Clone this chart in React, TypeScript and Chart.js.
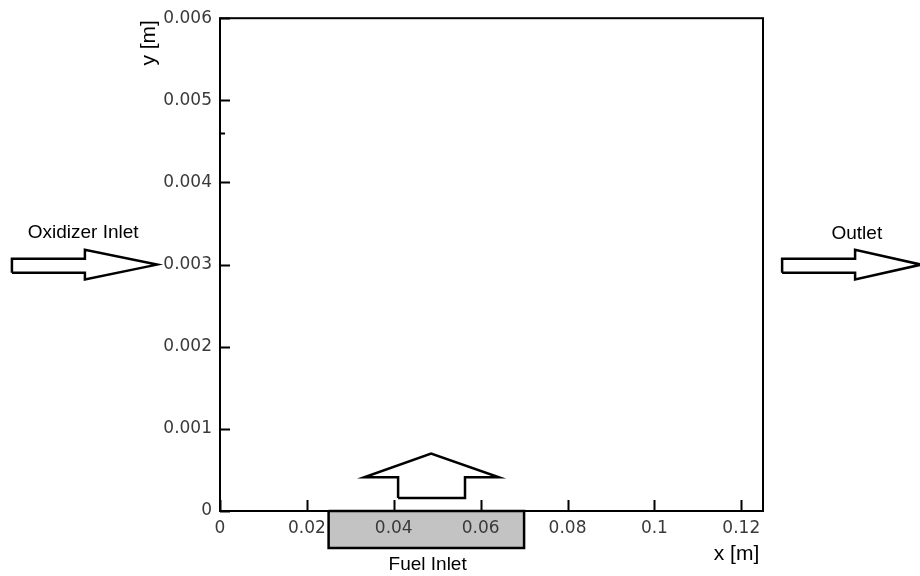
import React, { useEffect, useRef } from "react";
import { Chart, registerables } from "chart.js";
Chart.register(...registerables);

// Axis ranges and ticks
const xRange = [0, 0.125];
const yRange = [0, 0.006];
const xTicks = [0, 0.02, 0.04, 0.06, 0.08, 0.1, 0.12];
const yTicks = [0, 0.001, 0.002, 0.003, 0.004, 0.005, 0.006];
const yMinorTicks = [0.0046];

// Shapes in data units [m]
const fuelInletX = [0.025, 0.07, 0.07, 0.025, 0.025];
const fuelInletY = [0, 0, -0.00045, -0.00045, 0];

const fuelArrowX = [0.041, 0.041, 0.0332, 0.0486, 0.0642, 0.0564, 0.0564, 0.041];
const fuelArrowY = [0.000157, 0.00041, 0.00041, 0.0007, 0.00041, 0.00041, 0.000157, 0.000157];

const oxArrowX = [-0.0479, -0.0311, -0.0311, -0.0145, -0.0311, -0.0311, -0.0479, -0.0479];
const oxArrowY = [0.0029, 0.0029, 0.00282, 0.003, 0.00318, 0.00307, 0.00307, 0.0029];

const outArrowX = [0.1294, 0.1462, 0.1462, 0.1614, 0.1462, 0.1462, 0.1294, 0.1294];
const outArrowY = [0.0029, 0.0029, 0.00282, 0.003, 0.00318, 0.00307, 0.00307, 0.0029];

// Annotation labels
const labelTexts = ["Oxidizer Inlet", "Outlet", "Fuel Inlet"];
const labelX = [-0.0315, 0.1466, 0.0478];
const labelY = [0.00339, 0.00338, -0.00065];

const xTitle = "x [m]";
const xTitlePos = [0.1189, -0.00052];
const yTitle = "y [m]";
const yTitlePos = [-0.0162, 0.0057];

const toPts = (xs: number[], ys: number[]) => xs.map((x, i) => ({ x, y: ys[i] }));

const shapeDataset = (label: string, xs: number[], ys: number[], w: number) => ({
  label,
  data: toPts(xs, ys),
  showLine: true,
  pointRadius: 0,
  pointHoverRadius: 0,
  borderColor: "#000",
  borderWidth: w,
  borderJoinStyle: "miter" as const,
  tension: 0,
  fill: false,
  clip: false as const,
});

const framePlugin = {
  id: "framePlugin",
  beforeDraw(chart: any) {
    // grey fill of the fuel inlet box (drawn before scales so labels sit on top)
    const meta = chart.getDatasetMeta(0);
    const pts = meta.data;
    if (!pts || !pts.length) return;
    const ctx = chart.ctx;
    ctx.save();
    ctx.beginPath();
    pts.forEach((p: any, i: number) => (i ? ctx.lineTo(p.x, p.y) : ctx.moveTo(p.x, p.y)));
    ctx.closePath();
    ctx.fillStyle = "#c3c3c3";
    ctx.fill();
    ctx.restore();
  },
  afterDraw(chart: any) {
    const ctx = chart.ctx;
    const { left, right, top, bottom } = chart.chartArea;
    const xs = chart.scales.x;
    const ys = chart.scales.y;
    ctx.save();
    // frame
    ctx.strokeStyle = "#000";
    ctx.lineWidth = 2;
    ctx.strokeRect(left, top, right - left, bottom - top);
    // inward ticks
    ctx.beginPath();
    xTicks.forEach((v) => {
      const px = Math.round(xs.getPixelForValue(v)) + 0.5;
      ctx.moveTo(px, bottom);
      ctx.lineTo(px, bottom - 11);
    });
    yTicks.forEach((v) => {
      const py = Math.round(ys.getPixelForValue(v)) + 0.5;
      ctx.moveTo(left, py);
      ctx.lineTo(left + 10, py);
    });
    yMinorTicks.forEach((v) => {
      const py = Math.round(ys.getPixelForValue(v)) + 0.5;
      ctx.moveTo(left, py);
      ctx.lineTo(left + 5, py);
    });
    ctx.lineWidth = 2;
    ctx.stroke();

    // annotation labels
    ctx.fillStyle = "#000";
    ctx.textAlign = "center";
    ctx.textBaseline = "middle";
    ctx.font = "19px 'Liberation Sans', Arial, sans-serif";
    labelTexts.forEach((t, i) => {
      ctx.fillText(t, xs.getPixelForValue(labelX[i]), ys.getPixelForValue(labelY[i]));
    });
    // axis titles
    ctx.font = "21px 'Liberation Sans', Arial, sans-serif";
    ctx.fillText(xTitle, xs.getPixelForValue(xTitlePos[0]), ys.getPixelForValue(xTitlePos[1]));
    ctx.save();
    ctx.translate(xs.getPixelForValue(yTitlePos[0]), ys.getPixelForValue(yTitlePos[1]));
    ctx.rotate(-Math.PI / 2);
    ctx.fillText(yTitle, 0, 0);
    ctx.restore();
    ctx.restore();
  },
};

const tickFont = { family: "'DejaVu Sans', sans-serif", size: 17 };

export default function App() {
  const ref = useRef<HTMLCanvasElement | null>(null);
  useEffect(() => {
    if (!ref.current) return;
    const chart = new Chart(ref.current, {
      type: "scatter",
      data: {
        datasets: [
          shapeDataset("Fuel Inlet", fuelInletX, fuelInletY, 2.5),
          shapeDataset("Fuel arrow", fuelArrowX, fuelArrowY, 2.5),
          shapeDataset("Oxidizer Inlet", oxArrowX, oxArrowY, 2.5),
          shapeDataset("Outlet", outArrowX, outArrowY, 2.5),
        ],
      },
      options: {
        responsive: false,
        animation: false,
        events: [],
        layout: { padding: { left: 0, top: 15, right: 157, bottom: 0 } },
        plugins: { legend: { display: false }, tooltip: { enabled: false } },
        scales: {
          x: {
            type: "linear",
            position: "bottom",
            min: xRange[0],
            max: xRange[1],
            grid: { display: false, drawTicks: false },
            border: { display: false },
            afterBuildTicks: (s: any) => {
              s.ticks = xTicks.map((v) => ({ value: v }));
            },
            afterFit: (s: any) => {
              s.height = 65;
            },
            ticks: {
              font: tickFont,
              color: "#3a3a3a",
              padding: 7,
              maxRotation: 0,
              autoSkip: false,
              callback: (v: any) => String(Number(v)),
            },
          },
          y: {
            type: "linear",
            position: "left",
            min: yRange[0],
            max: yRange[1],
            grid: { display: false, drawTicks: false },
            border: { display: false },
            afterBuildTicks: (s: any) => {
              s.ticks = yTicks.map((v) => ({ value: v }));
            },
            afterFit: (s: any) => {
              s.width = 220;
            },
            ticks: {
              font: tickFont,
              color: "#3a3a3a",
              padding: 8,
              autoSkip: false,
              callback: (v: any) => String(Number(v)),
            },
          },
        },
      },
      plugins: [framePlugin],
    });
    return () => chart.destroy();
  }, []);
  return (
    <div style={{ position: "absolute", left: 0, top: 0, width: 920, height: 576, background: "#fff" }}>
      <canvas ref={ref} width={920} height={576} style={{ display: "block" }} />
    </div>
  );
}
